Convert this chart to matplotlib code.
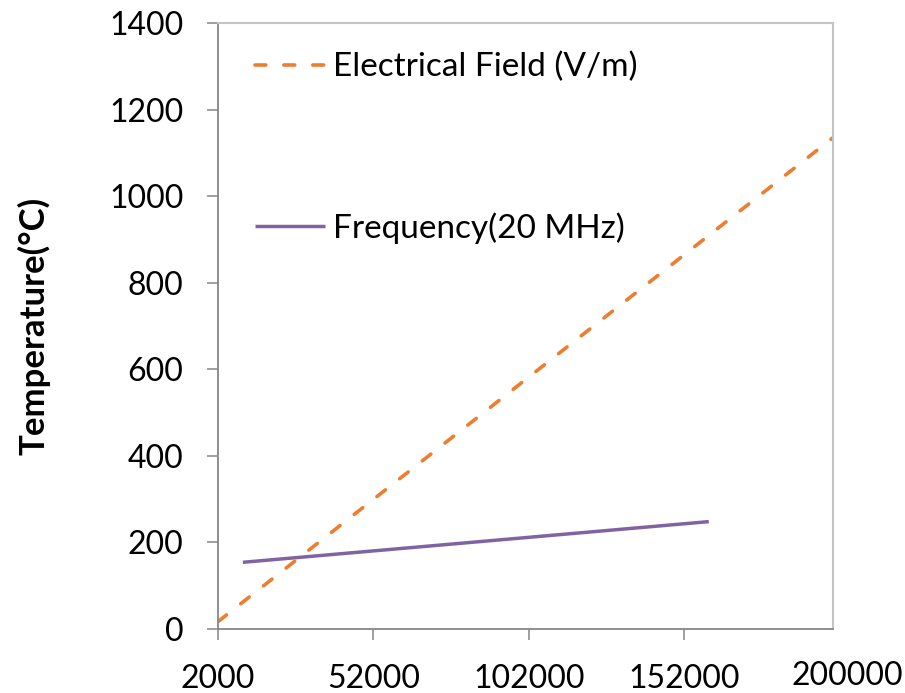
import matplotlib

matplotlib.use("Agg")
import matplotlib.pyplot as plt

# Data
field_x = [2000, 200000]
field_temp = [17, 1135]
freq_x = [10000, 160000]
freq_temp = [154, 248]

x_ticks = [2000, 52000, 102000, 152000]
x_tick_labels = ["2000", "52000", "102000", "152000"]
x_end_label = "200000"
y_ticks = [0, 200, 400, 600, 800, 1000, 1200, 1400]

ORANGE = "#ED7D31"
PURPLE = "#8064A2"
AXIS_GRAY = "#868686"
FRAME_GRAY = "#C4C4C4"

plt.rcParams["font.family"] = ["Lato", "DejaVu Sans"]

fig = plt.figure(figsize=(9.05, 6.93), dpi=100)
ax = fig.add_axes([0.2409, 0.0924, 0.6796, 0.8745])

ax.plot(field_x, field_temp, color=ORANGE, lw=2.6, dashes=(3.0, 5.0),
        dash_capstyle="round", label="Electrical Field (V/m)")
ax.plot(freq_x, freq_temp, color=PURPLE, lw=2.5, solid_capstyle="butt",
        label="Frequency(20 MHz)")

ax.set_xlim(2000, 200000)
ax.set_ylim(0, 1400)
ax.set_xticks(x_ticks)
ax.set_xticklabels(x_tick_labels)
ax.set_yticks(y_ticks)

ax.tick_params(axis="both", direction="out", length=8, width=1.1,
               color=AXIS_GRAY, labelsize=23, labelcolor="black")
ax.tick_params(axis="x", pad=17)
ax.tick_params(axis="y", pad=17)

for side in ("left", "bottom"):
    ax.spines[side].set_color(AXIS_GRAY)
    ax.spines[side].set_linewidth(1.3)
for side in ("top", "right"):
    ax.spines[side].set_color(FRAME_GRAY)
    ax.spines[side].set_linewidth(1.5)

# last x label sits a bit off the regular tick row
ax.annotate(x_end_label, xy=(200000, 0), xycoords=("data", "axes fraction"),
            xytext=(10, -23), textcoords="offset points",
            ha="center", va="top", fontsize=23)

ax.set_ylabel("Temperature(°C)", fontsize=25, fontweight="bold")
ax.yaxis.set_label_coords(-0.273, 0.5)

ax.legend(loc="upper left", bbox_to_anchor=(0.06, 0.952), frameon=False,
          fontsize=24, borderpad=0, borderaxespad=0, handlelength=2.1,
          handletextpad=0.24, labelspacing=3.9)

fig.savefig("out.png", dpi=100)
